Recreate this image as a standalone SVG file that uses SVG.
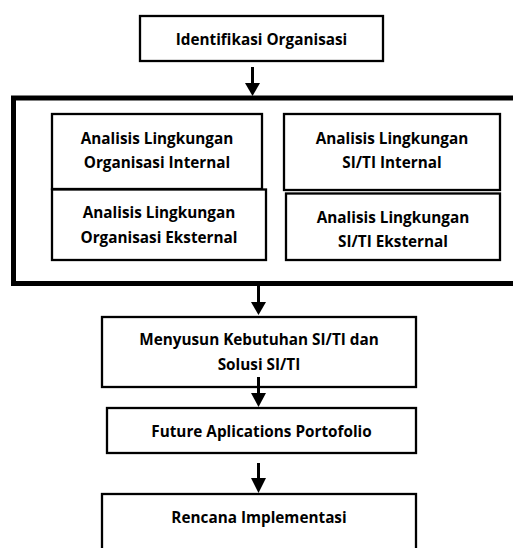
<svg xmlns="http://www.w3.org/2000/svg" width="513" height="548" viewBox="0 0 513 548">
<style>
.box{fill:#fff;stroke:#000;stroke-width:2.3}
.t{font-family:"Open Sans","Liberation Sans",sans-serif;font-weight:bold;font-size:15.3px;fill:#000;text-anchor:middle}
.shaft{stroke:#000;stroke-width:3}
.head{fill:#000}
</style>
<rect width="513" height="548" fill="#fff"/>
<g id="frame">
<path d="M513,98 H13.5 V283.5 H513" fill="none" stroke="#000" stroke-width="5"/>
</g>
<g id="identifikasi">
<rect class="box" x="140" y="16" width="243" height="45"/>
<text class="t" x="261.5" y="45">Identifikasi Organisasi</text>
</g>
<g id="org-internal">
<rect class="box" x="52" y="114" width="210" height="75"/>
<text class="t" x="157" y="144">Analisis Lingkungan</text>
<text class="t" x="157" y="168">Organisasi Internal</text>
</g>
<g id="org-eksternal">
<rect class="box" x="52" y="189.5" width="214" height="70.5"/>
<text class="t" x="159" y="218">Analisis Lingkungan</text>
<text class="t" x="159" y="243">Organisasi Eksternal</text>
</g>
<g id="siti-internal">
<rect class="box" x="284" y="114" width="216" height="76"/>
<text class="t" x="392" y="144">Analisis Lingkungan</text>
<text class="t" x="392" y="168">SI/TI Internal</text>
</g>
<g id="siti-eksternal">
<rect class="box" x="286" y="193.5" width="214" height="66.5"/>
<text class="t" x="393" y="223">Analisis Lingkungan</text>
<text class="t" x="393" y="247">SI/TI Eksternal</text>
</g>
<g id="menyusun">
<rect class="box" x="102" y="317" width="314" height="70"/>
<text class="t" x="259" y="345">Menyusun Kebutuhan SI/TI dan</text>
<text class="t" x="259" y="370">Solusi SI/TI</text>
</g>
<g id="future">
<rect class="box" x="107" y="408" width="309" height="45"/>
<text class="t" x="261.5" y="437">Future Aplications Portofolio</text>
</g>
<g id="rencana">
<rect class="box" x="102" y="494" width="314" height="70"/>
<text class="t" x="259" y="523">Rencana Implementasi</text>
</g>
<g id="connectors">
<line class="shaft" x1="252.5" y1="67" x2="252.5" y2="84"/>
<polygon class="head" points="245,83 260,83 252.5,96"/>
<line class="shaft" x1="258.5" y1="286" x2="258.5" y2="303"/>
<polygon class="head" points="251,302 266,302 258.5,315"/>
<line class="shaft" x1="258.5" y1="377" x2="258.5" y2="394"/>
<polygon class="head" points="251,393 266,393 258.5,407"/>
<line class="shaft" x1="258.5" y1="463" x2="258.5" y2="479"/>
<polygon class="head" points="251,478 266,478 258.5,493"/>
</g>
</svg>
